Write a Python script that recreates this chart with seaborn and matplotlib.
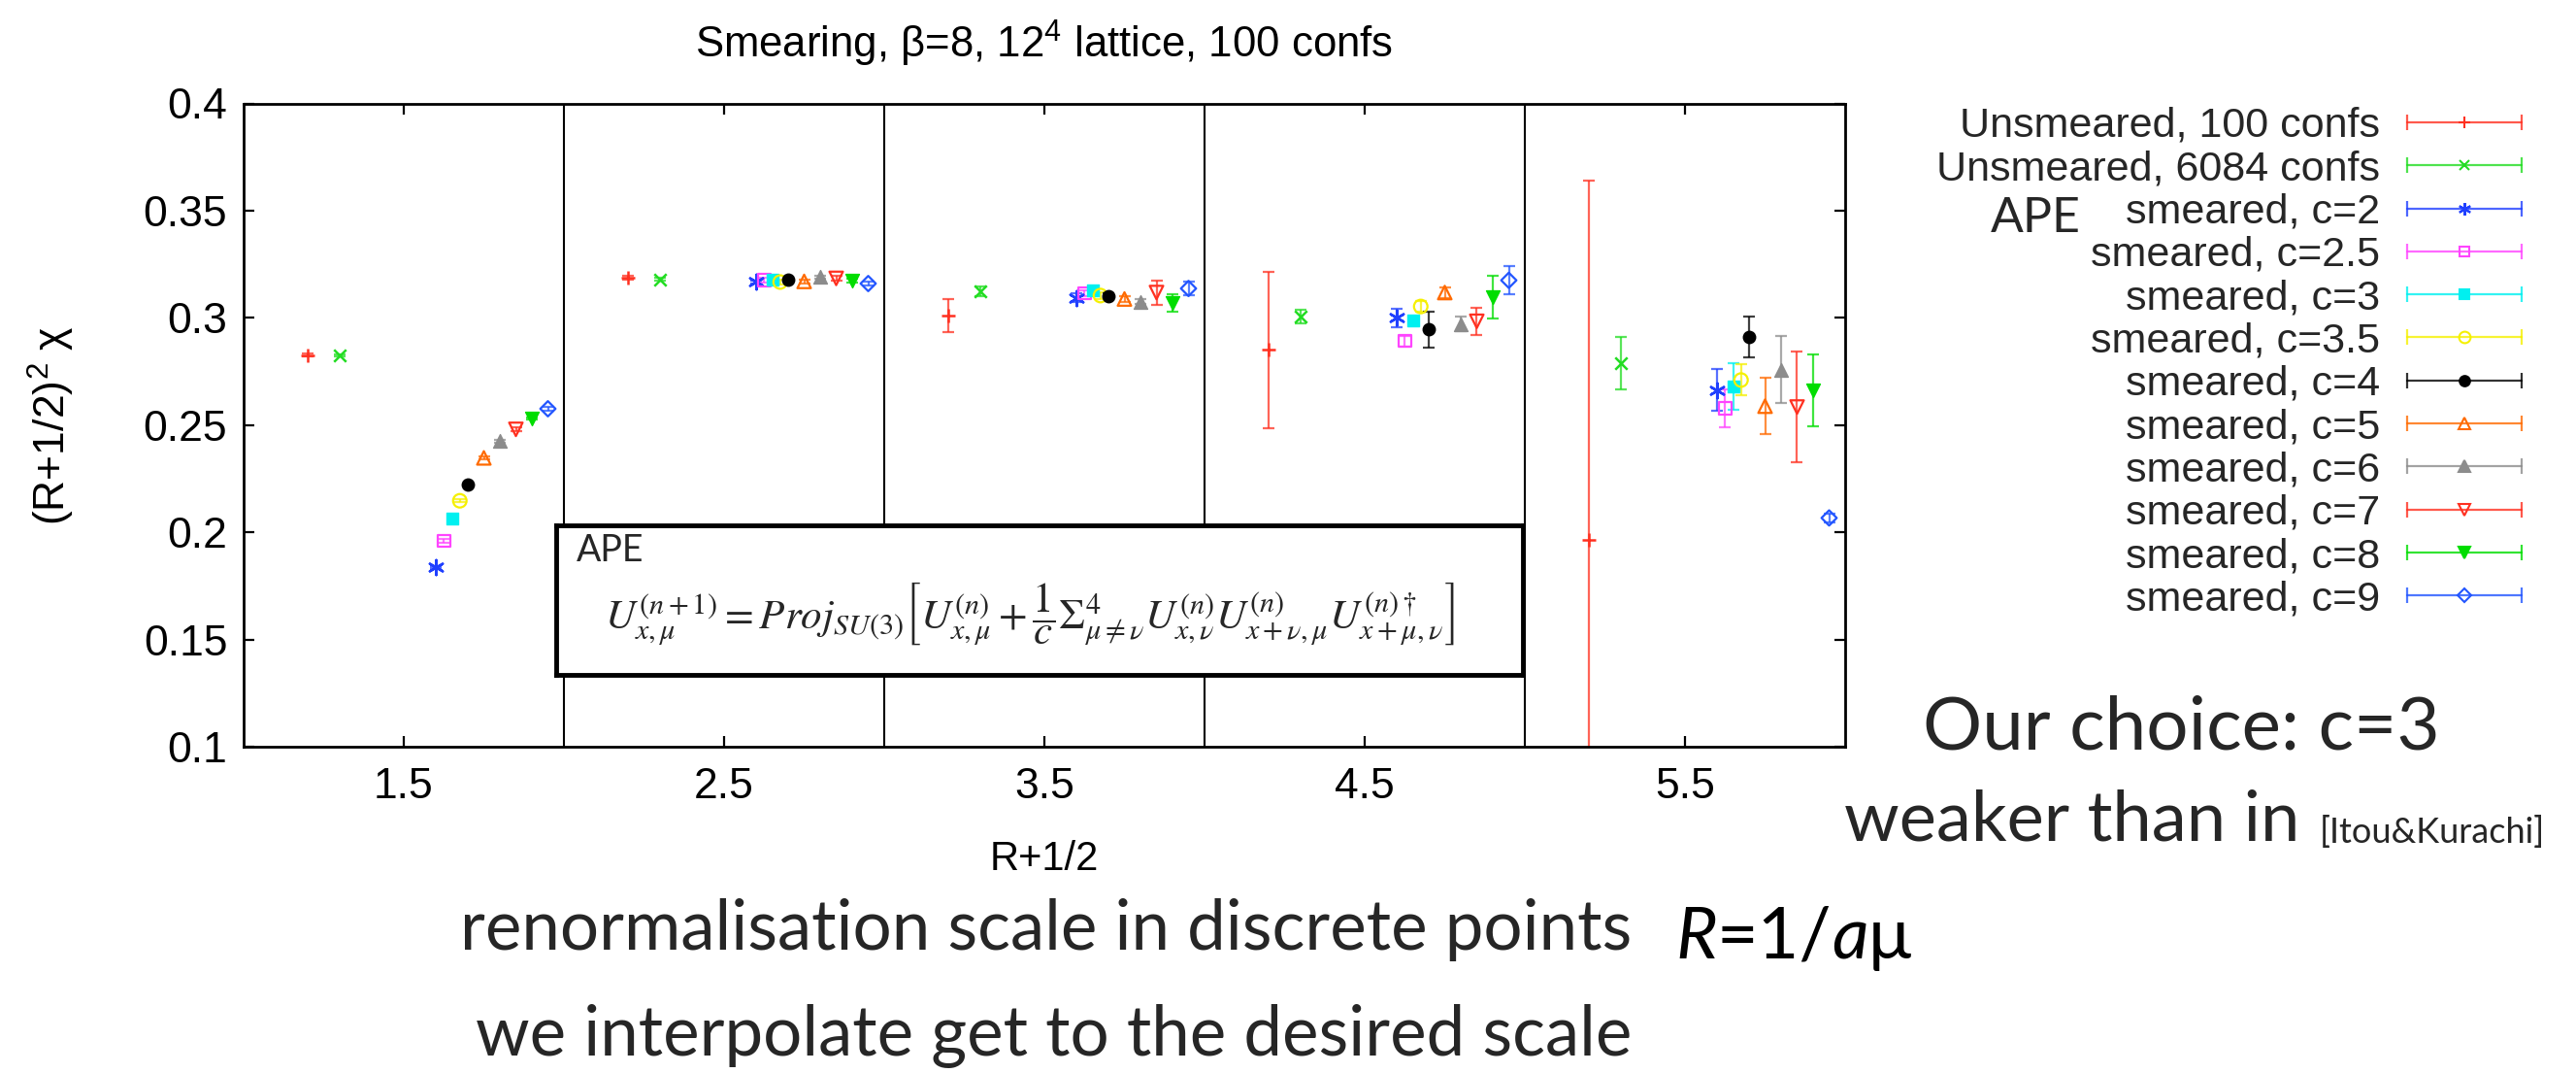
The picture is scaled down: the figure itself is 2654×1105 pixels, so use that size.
import numpy as np
import pandas as pd
import matplotlib
matplotlib.use("Agg")
import matplotlib.pyplot as plt
import seaborn as sns
from matplotlib.lines import Line2D
from matplotlib.legend_handler import HandlerBase
from matplotlib.ticker import FuncFormatter
from matplotlib.offsetbox import TextArea, HPacker, AnnotationBbox

# ---------------- data ----------------
R_HALF = [1.5, 2.5, 3.5, 4.5, 5.5]
SERIES = ["Unsmeared, 100 confs", "Unsmeared, 6084 confs",
          "smeared, c=2", "smeared, c=2.5", "smeared, c=3", "smeared, c=3.5",
          "smeared, c=4", "smeared, c=5", "smeared, c=6", "smeared, c=7",
          "smeared, c=8", "smeared, c=9"]
# horizontal displacement of each series around R+1/2
X_SHIFT = [-0.3, -0.2, 0.1, 0.125, 0.15, 0.175, 0.2, 0.25, 0.3, 0.35, 0.4, 0.45]

Y_UNS100 = [0.2827, 0.3186, 0.3010, 0.2851, 0.1965]
E_UNS100 = [0.0008, 0.0010, 0.0078, 0.0364, 0.1676]
Y_UNS6084 = [0.2824, 0.3180, 0.3124, 0.3006, 0.2790]
E_UNS6084 = [0.0005, 0.0008, 0.0022, 0.0030, 0.0122]
Y_C2 = [0.1837, 0.3167, 0.3094, 0.3000, 0.2663]
E_C2 = [0.0005, 0.0008, 0.0020, 0.0042, 0.0097]
Y_C25 = [0.1960, 0.3175, 0.3114, 0.2892, 0.2578]
E_C25 = [0.0008, 0.0010, 0.0015, 0.0025, 0.0089]
Y_C3 = [0.2065, 0.3180, 0.3127, 0.2986, 0.2680]
E_C3 = [0.0005, 0.0010, 0.0012, 0.0020, 0.0107]
Y_C35 = [0.2147, 0.3167, 0.3104, 0.3053, 0.2710]
E_C35 = [0.0008, 0.0010, 0.0015, 0.0025, 0.0072]
Y_C4 = [0.2224, 0.3176, 0.3102, 0.2945, 0.2910]
E_C4 = [0.0005, 0.0008, 0.0012, 0.0083, 0.0096]
Y_C5 = [0.2347, 0.3170, 0.3088, 0.3118, 0.2588]
E_C5 = [0.0006, 0.0010, 0.0015, 0.0025, 0.0131]
Y_C6 = [0.2425, 0.3190, 0.3076, 0.2971, 0.2759]
E_C6 = [0.0006, 0.0008, 0.0010, 0.0034, 0.0156]
Y_C7 = [0.2480, 0.3184, 0.3118, 0.2984, 0.2584]
E_C7 = [0.0008, 0.0010, 0.0057, 0.0064, 0.0258]
Y_C8 = [0.2531, 0.3173, 0.3069, 0.3098, 0.2661]
E_C8 = [0.0006, 0.0008, 0.0040, 0.0100, 0.0168]
Y_C9 = [0.2576, 0.3160, 0.3137, 0.3175, 0.2067]
E_C9 = [0.0008, 0.0010, 0.0031, 0.0066, 0.0022]

Y_ALL = [Y_UNS100, Y_UNS6084, Y_C2, Y_C25, Y_C3, Y_C35, Y_C4, Y_C5, Y_C6, Y_C7, Y_C8, Y_C9]
E_ALL = [E_UNS100, E_UNS6084, E_C2, E_C25, E_C3, E_C35, E_C4, E_C5, E_C6, E_C7, E_C8, E_C9]

Y_TICKS = [0.1, 0.15, 0.2, 0.25, 0.3, 0.35, 0.4]
X_TICKS = [1.5, 2.5, 3.5, 4.5, 5.5]
X_DIVIDERS = [2, 3, 4, 5]

# ---------------- styles ----------------
STYLE = {
    "Unsmeared, 100 confs":  dict(color="#ff3020", marker="+", fill=False, size=10),
    "Unsmeared, 6084 confs": dict(color="#22dd22", marker="x", fill=False, size=9),
    "smeared, c=2":   dict(color="#2040ff", marker=(6, 2, 0), fill=False, size=11),
    "smeared, c=2.5": dict(color="#ff44ff", marker="s", fill=False, size=9),
    "smeared, c=3":   dict(color="#00f0f0", marker="s", fill=True, size=9),
    "smeared, c=3.5": dict(color="#f5f000", marker="o", fill=False, size=10),
    "smeared, c=4":   dict(color="#000000", marker="o", fill=True, size=9),
    "smeared, c=5":   dict(color="#ff6a00", marker="^", fill=False, size=10),
    "smeared, c=6":   dict(color="#8c8c8c", marker="^", fill=True, size=10),
    "smeared, c=7":   dict(color="#ff3020", marker="v", fill=False, size=10),
    "smeared, c=8":   dict(color="#00dd00", marker="v", fill=True, size=10),
    "smeared, c=9":   dict(color="#2255ff", marker="D", fill=False, size=8),
}

rows = []
for name, shift, ys, es in zip(SERIES, X_SHIFT, Y_ALL, E_ALL):
    for r, y, e in zip(R_HALF, ys, es):
        rows.append(dict(series=name, R=r, x=r + shift, y=y, err=e))
df = pd.DataFrame(rows)

# ---------------- figure ----------------
sns.set_theme(style="ticks")
plt.rcParams["font.family"] = ["Liberation Sans", "DejaVu Sans"]
plt.rcParams["mathtext.fontset"] = "custom"
plt.rcParams["mathtext.rm"] = "Liberation Sans"
plt.rcParams["mathtext.it"] = "Liberation Sans:italic"

W, H = 2654, 1105
fig = plt.figure(figsize=(W / 100, H / 100), dpi=100, facecolor="white")
L, R_, T, B = 251, 1901, 106.5, 769
ax = fig.add_axes([L / W, 1 - B / H, (R_ - L) / W, (B - T) / H])
ax.set_facecolor("white")

for v in X_DIVIDERS:
    ax.axvline(v, color="black", lw=1.5, zorder=1)

for name in SERIES:
    st = STYLE[name]
    sub = df[df.series == name]
    ax.errorbar(sub.x, sub.y, yerr=sub.err, fmt="none", ecolor=st["color"],
                elinewidth=1.6, capsize=4.5, capthick=1.6, alpha=0.75, zorder=2)
    kw = dict(x=sub.x.values, y=sub.y.values, marker=st["marker"], s=st["size"] ** 2,
              color=st["color"], ax=ax, legend=False, zorder=3)
    lineart = st["marker"] in ("+", "x") or isinstance(st["marker"], tuple)
    if lineart:
        kw.update(linewidth=1.8)
    elif st["fill"]:
        kw.update(edgecolor=st["color"], linewidth=1.0)
    else:
        kw.update(facecolor="none", edgecolor=st["color"], linewidth=1.6)
    sns.scatterplot(**kw)

ax.set_xlim(1, 6)
ax.set_ylim(0.1, 0.4)
ax.set_xticks(X_TICKS)
ax.set_xticklabels([f"{t:g}" for t in X_TICKS])
ax.set_yticks(Y_TICKS)
ax.yaxis.set_major_formatter(FuncFormatter(lambda v, p: f"{v:g}"))
ax.tick_params(axis="both", direction="in", length=8, width=1.6, top=True, right=True,
               labelsize=32, colors="black")
ax.tick_params(axis="x", pad=15)
ax.tick_params(axis="y", pad=12)
for sp in ax.spines.values():
    sp.set_visible(True)
    sp.set_linewidth(2.0)
    sp.set_color("black")

ax.set_title("Smearing, β=8, 12$^4$ lattice, 100 confs", fontsize=31.5, pad=34, color="black")
ax.set_xlabel("R+1/2", fontsize=30, color="black")
ax.xaxis.set_label_coords(0.5, -0.145)
ax.set_ylabel("(R+1/2)$^2$ χ", fontsize=32, color="black")
ax.yaxis.set_label_coords(-0.104, 0.5)


# ---------------- legend (gnuplot style keys) ----------------
class GnuplotKey(HandlerBase):
    def create_artists(self, legend, orig, xdescent, ydescent, width, height, fontsize, trans):
        y = (height - ydescent) / 2.0
        x0, x1 = -xdescent, -xdescent + width
        col = orig.get_color()
        line = Line2D([x0, x1], [y, y], color=col, lw=1.6, alpha=0.8)
        caps = Line2D([x0, x1], [y, y], ls="none", marker="|", markersize=12,
                      markeredgewidth=1.6, color=col, alpha=0.8)
        mk = Line2D([(x0 + x1) / 2], [y], ls="none", marker=orig.get_marker(),
                    markersize=orig.get_markersize(), markerfacecolor=orig.get_markerfacecolor(),
                    markeredgecolor=orig.get_markeredgecolor(),
                    markeredgewidth=orig.get_markeredgewidth())
        for a in (line, caps, mk):
            a.set_transform(trans)
        return [line, caps, mk]


handles = []
for name in SERIES:
    st = STYLE[name]
    handles.append(Line2D([], [], color=st["color"], marker=st["marker"],
                          markersize=st["size"] * 0.85,
                          markerfacecolor=st["color"] if st["fill"] else "none",
                          markeredgecolor=st["color"], markeredgewidth=1.5))
leg = fig.legend(handles, SERIES, handler_map={Line2D: GnuplotKey()},
                 loc="upper right", bbox_to_anchor=(2598 / W, 1 - 110 / H),
                 markerfirst=False, frameon=False, borderpad=0, borderaxespad=0,
                 handlelength=2.74, handletextpad=0.65, fontsize=31, labelspacing=0.1)

SLIDE = ["Lato", "DejaVu Sans"]
fig.text(2051 / W, 1 - 239 / H, "APE", fontsize=36, family=SLIDE, ha="left", va="baseline")

# ---------------- APE formula box ----------------
bx = fig.add_axes([573 / W, 1 - 695 / H, (1569 - 573) / W, (695 - 541) / H])
bx.set_xticks([])
bx.set_yticks([])
bx.set_facecolor("white")
for sp in bx.spines.values():
    sp.set_visible(True)
    sp.set_linewidth(3.5)
    sp.set_color("black")
bx.text(0.021, 0.76, "APE", transform=bx.transAxes, fontsize=27, family=SLIDE,
        ha="left", va="baseline")
formula = (r"$U^{(n+1)}_{x,\mu} = Proj_{SU(3)}\left[U^{(n)}_{x,\mu} + \dfrac{1}{c}"
           r"\Sigma^{4}_{\mu\neq\nu}U^{(n)}_{x,\nu}U^{(n)}_{x+\nu,\mu}U^{(n)\dagger}_{x+\mu,\nu}\right]$")
bx.text(0.05, 0.41, formula, transform=bx.transAxes, fontsize=31, math_fontfamily="stix",
        ha="left", va="center")

# ---------------- slide annotations ----------------
fig.text(2247 / W, 1 - 772 / H, "Our choice: c=3", fontsize=55, family=SLIDE,
         ha="center", va="baseline")
fig.text(1900 / W, 1 - 866 / H, "weaker than in", fontsize=52, family=SLIDE,
         ha="left", va="baseline")
fig.text(2390 / W, 1 - 868 / H, "[Itou&Kurachi]", fontsize=26, family=SLIDE,
         ha="left", va="baseline")
fig.text(474 / W, 1 - 978 / H, "renormalisation scale in discrete points", fontsize=51,
         family=SLIDE, ha="left", va="baseline")
fig.text(490 / W, 1 - 1087 / H, "we interpolate get to the desired scale", fontsize=51,
         family=SLIDE, ha="left", va="baseline")

parts = [("R", "italic"), ("=1/", "normal"), ("a", "italic"), ("μ", "normal")]
tas = [TextArea(t, textprops=dict(family=SLIDE, style=s, fontsize=53, color="black"))
       for t, s in parts]
pk = HPacker(children=tas, align="baseline", pad=0, sep=0)
ab = AnnotationBbox(pk, (1726 / W, 1 - 1000 / H), xycoords="figure fraction",
                    box_alignment=(0, 0), frameon=False, pad=0)
fig.add_artist(ab)

fig.savefig("out.png", dpi=100, facecolor="white")
